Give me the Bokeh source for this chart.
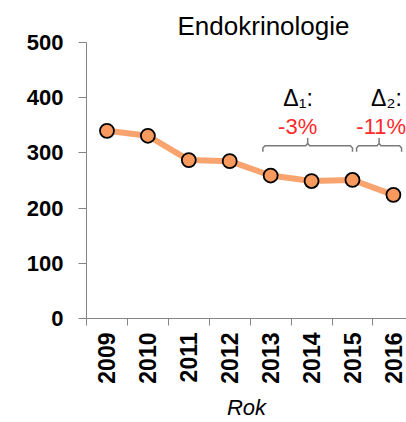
from math import pi

from bokeh.plotting import figure
from bokeh.models import Range1d, FixedTicker, Label, ColumnDataSource, Title
from bokeh.embed import file_html
from bokeh.resources import INLINE

# --- data -------------------------------------------------------------
years = ["2009", "2010", "2011", "2012", "2013", "2014", "2015", "2016"]
counts = [340, 331, 287, 285, 259, 249, 251, 224]

delta_names = ["Δ₁:", "Δ₂:"]
delta_values = ["-3%", "-11%"]
delta_from = ["2013", "2015"]
delta_to = ["2015", "2016"]

y_ticks = [0, 100, 200, 300, 400, 500]

# --- styling ------------------------------------------------------------
FONT = "Liberation Sans"
AXIS_GRAY = "#858585"
LINE_COLOR = "#F9A46F"
MARKER_FILL = "#F8995D"

xpos = {y: i + 0.5 for i, y in enumerate(years)}
x = [xpos[y] for y in years]
src = ColumnDataSource(data=dict(x=x, y=counts, year=years))

X_END = 7.82

p = figure(
    width=406, height=422,
    x_range=Range1d(0, X_END), y_range=Range1d(0, 500),
    output_backend="svg", toolbar_location=None,
    min_border_left=86, min_border_right=0,
    min_border_top=42, min_border_bottom=103,
)
p.title = Title(text="Endokrinologie", align="left", offset=91,
                text_font=FONT, text_font_style="normal",
                text_font_size="26px", text_color="black", standoff=4)
p.outline_line_color = None
p.xgrid.visible = False
p.ygrid.visible = False
p.background_fill_color = "white"
p.border_fill_color = "white"

# y axis
ya = p.yaxis[0]
ya.ticker = FixedTicker(ticks=y_ticks, minor_ticks=[])
ya.axis_line_color = AXIS_GRAY
ya.major_tick_line_color = AXIS_GRAY
ya.major_tick_in = 0
ya.major_tick_out = 8
ya.major_label_standoff = 15
ya.major_label_text_font = FONT
ya.major_label_text_font_style = "bold"
ya.major_label_text_font_size = "22px"
ya.major_label_text_color = "black"

# x axis: labels centred on each year, ticks on the boundaries between years
xa = p.xaxis[0]
xa.ticker = FixedTicker(ticks=x, minor_ticks=list(range(len(years) + 1)))
xa.major_label_overrides = {xpos[y]: y for y in years}
xa.axis_line_color = AXIS_GRAY
xa.major_tick_line_color = None
xa.minor_tick_line_color = AXIS_GRAY
xa.minor_tick_in = 0
xa.minor_tick_out = 7
xa.major_label_orientation = pi / 2
xa.major_label_standoff = 7
xa.major_label_text_font = FONT
xa.major_label_text_font_style = "bold"
xa.major_label_text_font_size = "23px"
xa.major_label_text_color = "black"
xa.axis_label = "Rok"
xa.axis_label_text_font = FONT
xa.axis_label_text_font_style = "italic"
xa.axis_label_text_font_size = "22px"
xa.axis_label_text_color = "black"
xa.axis_label_standoff = 8

# series
p.line("x", "y", source=src, line_color=LINE_COLOR, line_width=6)
p.scatter("x", "y", source=src, size=14, fill_color=MARKER_FILL,
          line_color="black", line_width=1.8)

# change brackets
pad_left = [-0.19, 0.10]
pad_right = [0.0, 0.20]
y_top, y_end, y_tip = 313, 302, 327
dx, dy = 0.05, 4
xs, ys = [], []
for a, b, pl, pr in zip(delta_from, delta_to, pad_left, pad_right):
    L = xpos[a] + pl
    R = xpos[b] + pr
    M = (L + R) / 2
    xs.append([L, L, L + dx, M - dx, M, M])
    ys.append([y_end, y_top - dy, y_top, y_top, y_top + dy, y_tip])
    xs.append([M, M + dx, R - dx, R, R])
    ys.append([y_top + dy, y_top, y_top, y_top - dy, y_end])
p.multi_line(xs, ys, line_color="#7a7a7a", line_width=1.5)

# change labels: name above, percentage below
name_x = [5.17, 7.33]
value_x = [5.16, X_END - 0.01]
value_align = ["center", "right"]
for nx, vx, va, name, val in zip(name_x, value_x, value_align,
                                 delta_names, delta_values):
    p.add_layout(Label(x=nx, y=399, text=name, text_align="center",
                       text_baseline="alphabetic", text_font=FONT,
                       text_font_size="23px", text_color="black"))
    p.add_layout(Label(x=vx, y=348, text=val, text_align=va,
                       text_baseline="alphabetic", text_font=FONT,
                       text_font_size="22px", text_color="#FF2A2A"))

open("out.html", "w").write(file_html(p, INLINE))
